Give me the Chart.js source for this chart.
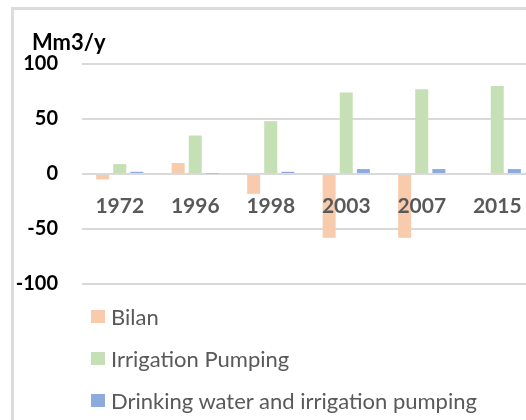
<!DOCTYPE html>
<html>
<head>
<meta charset="utf-8">
<script src="https://cdn.jsdelivr.net/npm/chart.js@4/dist/chart.umd.min.js"></script>
<style>
  html, body { margin: 0; padding: 0; background: #fff; overflow: hidden; width: 526px; height: 420px; }
  #frame { position: absolute; left: 11px; top: 7px; width: 600px; height: 500px; border: 3px solid #dcdcdc; }
  #wrap { position: absolute; left: 0; top: 0; width: 560px; height: 320px; }
  #title { position: absolute; left: 32px; top: 29px; line-height: 25px; font-family: Lato, "Open Sans", sans-serif; font-size: 22px; font-weight: bold; color: #000; }
  #legend { position: absolute; left: 91px; top: 295px; font-family: Lato, "Open Sans", sans-serif; font-size: 22px; color: #595959; }
  #legend div { height: 42px; display: flex; align-items: center; }
  #legend span.box { display: inline-block; width: 14px; height: 13px; margin-right: 6px; }
</style>
</head>
<body>
<div id="frame"></div>
<div id="wrap"><canvas id="myChart"></canvas></div>
<div id="title">Mm3/y</div>
<div id="legend"></div>
<script>
(() => {
	'use strict'

	const years = ['1972', '1996', '1998', '2003', '2007', '2015'];
	const bilan = [-5, 10, -18, -58, -58, 0];
	const irrigationPumping = [9, 35, 48, 74, 77, 80];
	const drinkingWater = [2, 0.5, 2, 4.5, 4.5, 4.5];
	const yTicks = [-100, -50, 0, 50, 100];

	const fontFamily = 'Lato, "Open Sans", sans-serif';
	const ctx = document.getElementById('myChart');

	const myChart = new Chart(ctx, {
		type: 'bar',
		data: {
			labels: years,
			datasets: [{
				label: 'Bilan',
				data: bilan,
				backgroundColor: '#f8cbad'
			}, {
				label: 'Irrigation Pumping',
				data: irrigationPumping,
				backgroundColor: '#c5e0b4'
			}, {
				label: 'Drinking water and irrigation pumping',
				data: drinkingWater,
				backgroundColor: '#8faadc'
			}]
		},
		options: {
			responsive: true,
			maintainAspectRatio: false,
			animation: false,
			categoryPercentage: 0.68,
			barPercentage: 0.76,
			layout: {
				padding: { left: 14, right: 25, top: 64, bottom: 6 }
			},
			plugins: {
				legend: { display: false },
				tooltip: { enabled: false }
			},
			scales: {
				x: {
					position: { y: 0 },
					grid: { display: false, drawTicks: false },
					border: { display: false },
					ticks: {
						z: 1,
						color: '#595959',
						padding: 20,
						font: { family: fontFamily, size: 21, weight: 'bold' }
					}
				},
				y: {
					min: -100,
					max: 100,
					afterBuildTicks: (axis) => {
						axis.ticks = yTicks.map((v) => ({ value: v }));
					},
					afterFit: (axis) => {
						axis.width = 68;
					},
					grid: { color: '#d9d9d9', lineWidth: 2, drawTicks: false },
					border: { display: false },
					ticks: {
						color: '#000',
						padding: 24,
						font: { family: fontFamily, size: 20, weight: 'bold' }
					}
				}
			}
		}
	});

	const legendBox = document.getElementById('legend');
	myChart.data.datasets.forEach((dataset) => {
		const row = document.createElement('div');
		const box = document.createElement('span');
		box.className = 'box';
		box.style.background = dataset.backgroundColor;
		row.appendChild(box);
		row.appendChild(document.createTextNode(dataset.label));
		legendBox.appendChild(row);
	});
})()
</script>
</body>
</html>
